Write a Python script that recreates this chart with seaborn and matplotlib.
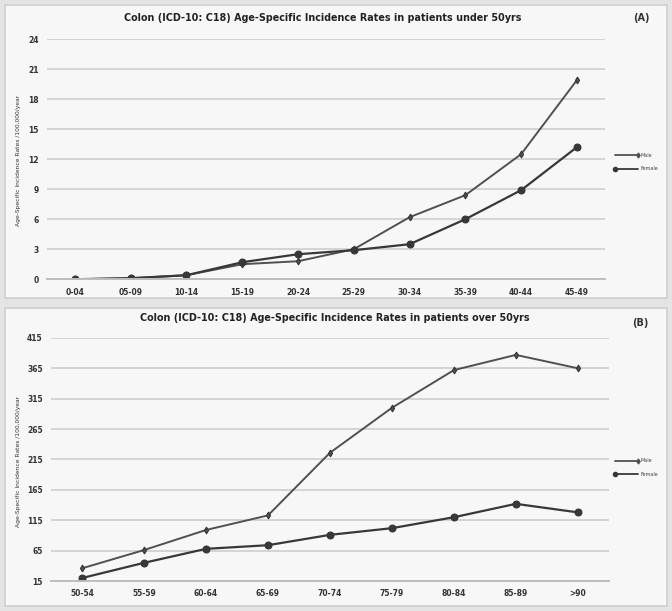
import pandas as pd
import matplotlib.pyplot as plt
import seaborn as sns
from matplotlib.patches import Rectangle

# Age groups and rates (per 100,000 / year)
ages_under50 = ["0-04", "05-09", "10-14", "15-19", "20-24",
                "25-29", "30-34", "35-39", "40-44", "45-49"]
male_under50 = [0.0, 0.1, 0.4, 1.5, 1.8, 3.0, 6.2, 8.4, 12.5, 19.9]
female_under50 = [0.0, 0.1, 0.4, 1.7, 2.5, 2.9, 3.5, 6.0, 8.9, 13.2]

ages_over50 = ["50-54", "55-59", "60-64", "65-69", "70-74",
               "75-79", "80-84", "85-89", ">90"]
male_over50 = [36, 66, 99, 123, 226, 300, 362, 387, 365]
female_over50 = [20, 45, 68, 74, 91, 102, 120, 142, 128]

under_ticks = [0, 3, 6, 9, 12, 15, 18, 21, 24]
over_ticks = [15, 65, 115, 165, 215, 265, 315, 365, 415]


def long_df(ages, male, female):
    return pd.DataFrame({
        "age": ages * 2,
        "rate": male + female,
        "sex": ["Male"] * len(ages) + ["Female"] * len(ages),
    })


sns.set_style("white")
plt.rcParams["font.family"] = ["DejaVu Sans"]

fig = plt.figure(figsize=(6.72, 6.11), dpi=100)
fig.patch.set_facecolor("#e4e4e4")

# panel backgrounds
for y0, h in [(0.512, 0.480), (0.008, 0.488)]:
    fig.add_artist(Rectangle((0.008, y0), 0.984, h, transform=fig.transFigure,
                             facecolor="#f7f7f7", edgecolor="#cfcfcf", lw=1.2, zorder=0))

panels = [
    dict(df=long_df(ages_under50, male_under50, female_under50), n=len(ages_under50),
         rect=[0.070, 0.543, 0.830, 0.393], ylim=(0, 24), ticks=under_ticks,
         title="Colon (ICD-10: C18) Age-Specific Incidence Rates in patients under 50yrs",
         title_xy=(0.48, 0.970), tag="(A)", tag_xy=(0.955, 0.970),
         ylab_y=0.738, leg_y=0.735),
    dict(df=long_df(ages_over50, male_over50, female_over50), n=len(ages_over50),
         rect=[0.076, 0.049, 0.830, 0.398], ylim=(15, 415), ticks=over_ticks,
         title="Colon (ICD-10: C18) Age-Specific Incidence Rates in patients over 50yrs",
         title_xy=(0.498, 0.479), tag="(B)", tag_xy=(0.953, 0.472),
         ylab_y=0.244, leg_y=0.235),
]

for p in panels:
    ax = fig.add_axes(p["rect"])
    ax.set_facecolor("#f7f7f7")
    sns.lineplot(data=p["df"], x="age", y="rate", hue="sex", style="sex",
                 markers={"Male": "d", "Female": "o"}, dashes=False, sort=False,
                 palette={"Male": "#505050", "Female": "#383838"},
                 size="sex", sizes={"Male": 1.4, "Female": 1.6},
                 markeredgecolor="#333333", legend=False, ax=ax)
    # marker sizes: male small, female a bit bigger
    for line, ms in zip(ax.get_lines(), [3.5, 5]):
        line.set_markersize(ms)
    ax.set_xlim(-0.5, p["n"] - 0.5)
    ax.set_ylim(*p["ylim"])
    ax.set_yticks(p["ticks"])
    ax.yaxis.grid(True, color="#d4d4d4", lw=1.4)
    ax.set_axisbelow(True)
    for s in ["top", "right", "left"]:
        ax.spines[s].set_visible(False)
    ax.spines["bottom"].set_color("#bdbdbd")
    ax.spines["bottom"].set_linewidth(1.4)
    ax.tick_params(axis="both", length=0, labelsize=5.5, colors="#333333", pad=6)
    for lab in ax.get_xticklabels() + ax.get_yticklabels():
        lab.set_fontweight("bold")
    ax.set_xlabel("")
    ax.set_ylabel("")

    fig.text(p["title_xy"][0], p["title_xy"][1], p["title"], ha="center", va="center",
             fontsize=6.9, fontweight="bold", color="#222222")
    fig.text(p["tag_xy"][0], p["tag_xy"][1], p["tag"], ha="center", va="center",
             fontsize=7, fontweight="bold", color="#333333")
    fig.text(0.028, p["ylab_y"], "Age-Specific Incidence Rates /100,000/year",
             rotation=90, ha="center", va="center", fontsize=4.3, color="#333333")

    # small legend at the right side of each panel
    ly = p["leg_y"]
    fig.add_artist(plt.Line2D([0.915, 0.950], [ly + 0.011, ly + 0.011],
                              transform=fig.transFigure, color="#505050", lw=1.3,
                              marker="d", markersize=2.5, markevery=[1]))
    fig.add_artist(plt.Line2D([0.915, 0.950], [ly - 0.011, ly - 0.011],
                              transform=fig.transFigure, color="#383838", lw=1.3,
                              marker="o", markersize=3, markevery=[0]))
    fig.text(0.953, ly + 0.011, "Male", fontsize=3.5, va="center", color="#444444")
    fig.text(0.953, ly - 0.011, "Female", fontsize=3.5, va="center", color="#444444")

plt.savefig("out.png", dpi=100, facecolor=fig.get_facecolor())
